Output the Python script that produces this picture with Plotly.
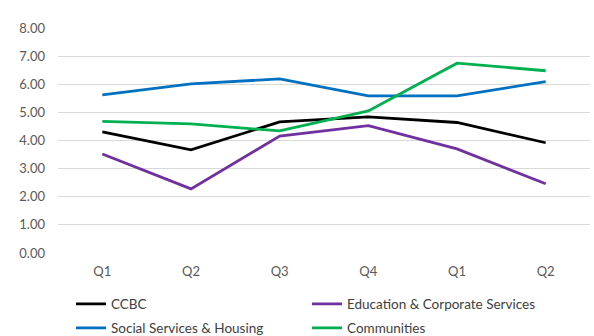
import plotly.graph_objects as go

categories = ["Q1", "Q2", "Q3", "Q4", "Q1", "Q2"]
ccbc = [4.31, 3.67, 4.66, 4.84, 4.64, 3.92]
education = [3.52, 2.28, 4.16, 4.53, 3.70, 2.46]
social = [5.62, 6.01, 6.19, 5.59, 5.59, 6.09]
communities = [4.68, 4.59, 4.34, 5.05, 6.75, 6.48]

series = [
    ("CCBC", ccbc, "#000000", "legend"),
    ("Education & Corporate Services", education, "#7030A0", "legend"),
    ("Social Services & Housing", social, "#0070C0", "legend2"),
    ("Communities", communities, "#00B050", "legend2"),
]

x = list(range(len(categories)))
fig = go.Figure()
for name, vals, color, lg in series:
    fig.add_trace(go.Scatter(x=x, y=vals, mode="lines", name=name, legend=lg,
                             line=dict(color=color, width=2.8)))

leg_common = dict(orientation="h", xref="container", yref="container",
                  xanchor="left", yanchor="middle", entrywidth=191,
                  itemwidth=30, tracegroupgap=0, bgcolor="rgba(0,0,0,0)",
                  font=dict(size=13.5, color="#404040"))

fig.update_layout(
    width=594, height=336,
    margin=dict(l=58, r=4, t=28, b=83),
    paper_bgcolor="white", plot_bgcolor="white",
    font=dict(family="Lato, Open Sans, sans-serif", size=13, color="#595959"),
    showlegend=True,
    legend=dict(x=71 / 594, y=1 - 304 / 336, **leg_common),
    legend2=dict(x=71 / 594, y=1 - 328 / 336, **leg_common),
)
fig.update_xaxes(tickvals=x, ticktext=categories, range=[-0.5, len(categories) - 0.5],
                 showgrid=False, zeroline=False, showline=False, ticks="",
                 ticklabelstandoff=9)
fig.update_yaxes(range=[0, 8], dtick=1, tickformat=".2f", showgrid=True,
                 gridcolor="#d9d9d9", gridwidth=1, zeroline=False, showline=False,
                 ticklabelstandoff=12)
fig.write_html("out.html")
